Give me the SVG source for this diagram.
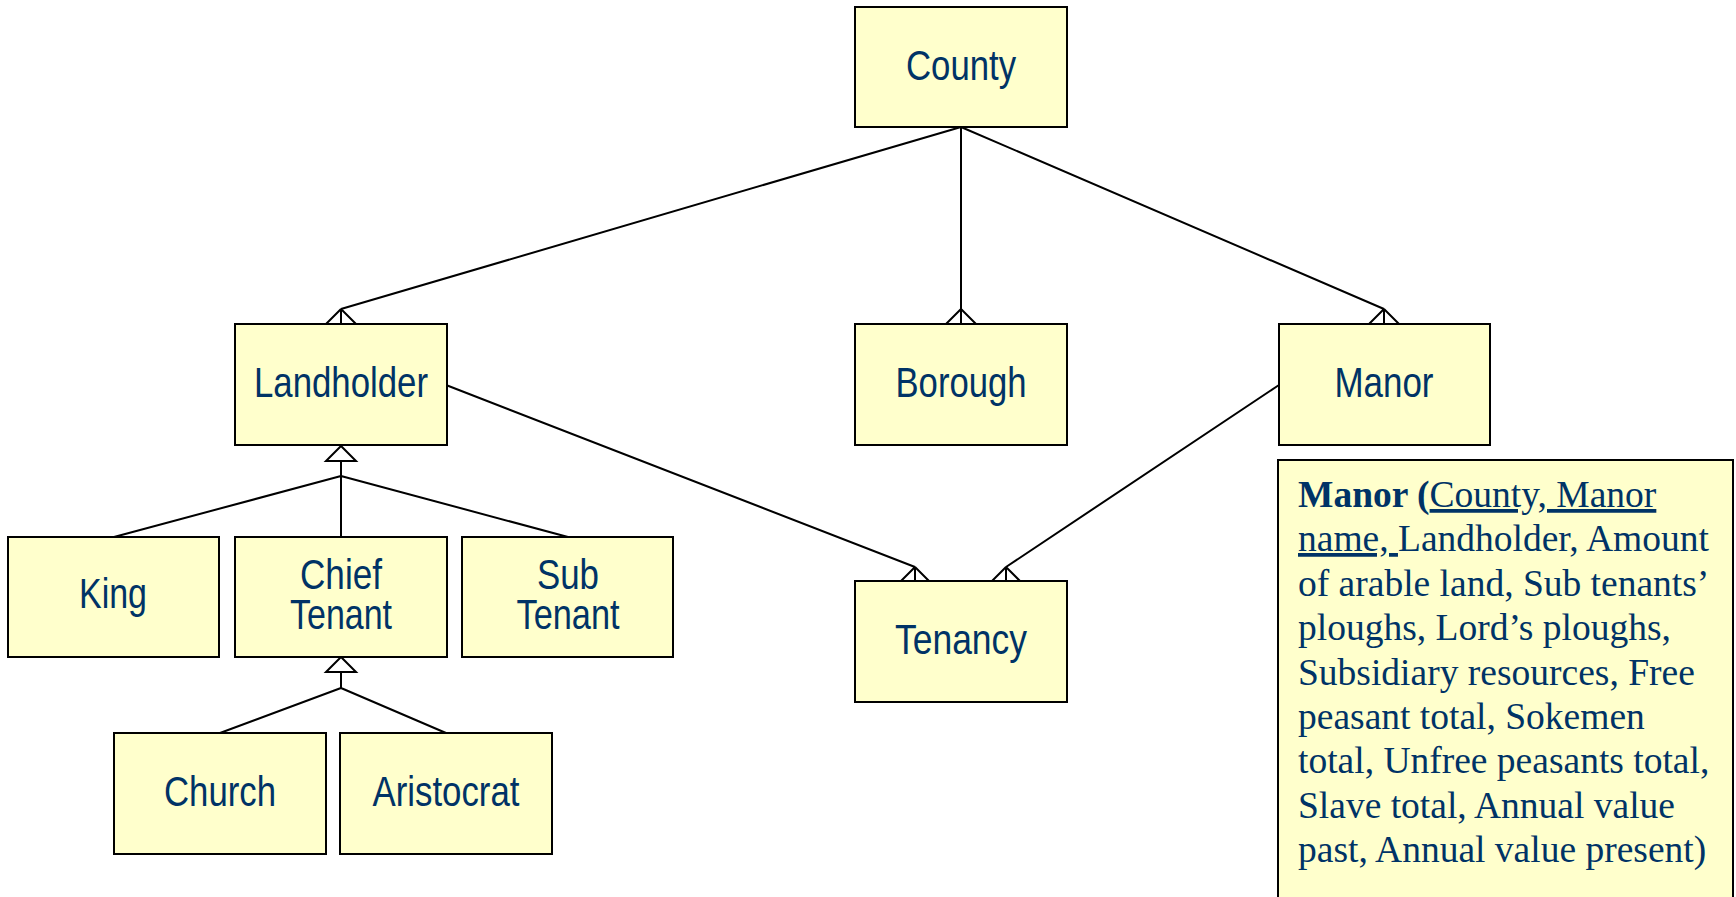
<svg xmlns="http://www.w3.org/2000/svg" width="1736" height="897" viewBox="0 0 1736 897">
<style>
.box{fill:#FFFFCC;stroke:#000;stroke-width:2}
.lbl{font-family:"Liberation Sans",Arial,sans-serif;font-size:43px;fill:#003366;text-anchor:middle}
.ln{fill:none;stroke:#000;stroke-width:2}
.tri{fill:#fff;stroke:#000;stroke-width:2}
.note{font-family:"Liberation Serif","Times New Roman",serif;font-size:37.5px;fill:#003366}
.u{text-decoration:underline}
</style>
<rect width="1736" height="897" fill="#fff"/>
<g id="connectors">
<path class="ln" d="M961,127 L341,309 M341,309 L326,324 M341,309 L341,324 M341,309 L356,324"/>
<path class="ln" d="M961,127 L961,324 M961,309 L946,324 M961,309 L976,324"/>
<path class="ln" d="M961,127 L1384,309 M1384,309 L1369,324 M1384,309 L1384,324 M1384,309 L1399,324"/>
<path class="ln" d="M446,385 L915,567 M915,567 L901,581 M915,567 L915,581 M915,567 L929,581"/>
<path class="ln" d="M1279,385 L1006,567 M1006,567 L992,581 M1006,567 L1006,581 M1006,567 L1020,581"/>
<path class="ln" d="M341,461 L341,476 M341,476 L114,537 M341,476 L341,537 M341,476 L568,537"/>
<polygon class="tri" points="341,446 326,461 356,461"/>
<path class="ln" d="M341,672 L341,688 M341,688 L220,733 M341,688 L446,733"/>
<polygon class="tri" points="341,657 326,672 356,672"/>
</g>
<g id="county"><rect class="box" x="855" y="7" width="212" height="120"/><text class="lbl" x="961" y="80" textLength="110" lengthAdjust="spacingAndGlyphs">County</text></g>
<g id="landholder"><rect class="box" x="235" y="324" width="212" height="121"/><text class="lbl" x="341" y="397" textLength="174" lengthAdjust="spacingAndGlyphs">Landholder</text></g>
<g id="borough"><rect class="box" x="855" y="324" width="212" height="121"/><text class="lbl" x="961" y="397" textLength="131" lengthAdjust="spacingAndGlyphs">Borough</text></g>
<g id="manor"><rect class="box" x="1279" y="324" width="211" height="121"/><text class="lbl" x="1384" y="397" textLength="99" lengthAdjust="spacingAndGlyphs">Manor</text></g>
<g id="king"><rect class="box" x="8" y="537" width="211" height="120"/><text class="lbl" x="113" y="608" textLength="68" lengthAdjust="spacingAndGlyphs">King</text></g>
<g id="chief-tenant"><rect class="box" x="235" y="537" width="212" height="120"/><text class="lbl" x="341" y="589" textLength="82" lengthAdjust="spacingAndGlyphs">Chief</text><text class="lbl" x="341" y="629" textLength="102" lengthAdjust="spacingAndGlyphs">Tenant</text></g>
<g id="sub-tenant"><rect class="box" x="462" y="537" width="211" height="120"/><text class="lbl" x="568" y="589" textLength="62" lengthAdjust="spacingAndGlyphs">Sub</text><text class="lbl" x="568" y="629" textLength="103" lengthAdjust="spacingAndGlyphs">Tenant</text></g>
<g id="tenancy"><rect class="box" x="855" y="581" width="212" height="121"/><text class="lbl" x="961" y="654" textLength="132" lengthAdjust="spacingAndGlyphs">Tenancy</text></g>
<g id="church"><rect class="box" x="114" y="733" width="212" height="121"/><text class="lbl" x="220" y="806" textLength="112" lengthAdjust="spacingAndGlyphs">Church</text></g>
<g id="aristocrat"><rect class="box" x="340" y="733" width="212" height="121"/><text class="lbl" x="446" y="806" textLength="147" lengthAdjust="spacingAndGlyphs">Aristocrat</text></g>
<g id="manor-note">
<rect class="box" x="1278" y="460" width="455" height="450"/>
<text class="note" x="1298" y="507"><tspan font-weight="bold">Manor (</tspan><tspan class="u">County, Manor</tspan></text>
<text class="note" x="1298" y="551"><tspan class="u" xml:space="preserve">name, </tspan>Landholder, Amount</text>
<text class="note" x="1298" y="596">of arable land, Sub tenants’</text>
<text class="note" x="1298" y="640">ploughs, Lord’s ploughs,</text>
<text class="note" x="1298" y="685">Subsidiary resources, Free</text>
<text class="note" x="1298" y="729">peasant total, Sokemen</text>
<text class="note" x="1298" y="773">total, Unfree peasants total,</text>
<text class="note" x="1298" y="818">Slave total, Annual value</text>
<text class="note" x="1298" y="862">past, Annual value present)</text>
</g>
</svg>
